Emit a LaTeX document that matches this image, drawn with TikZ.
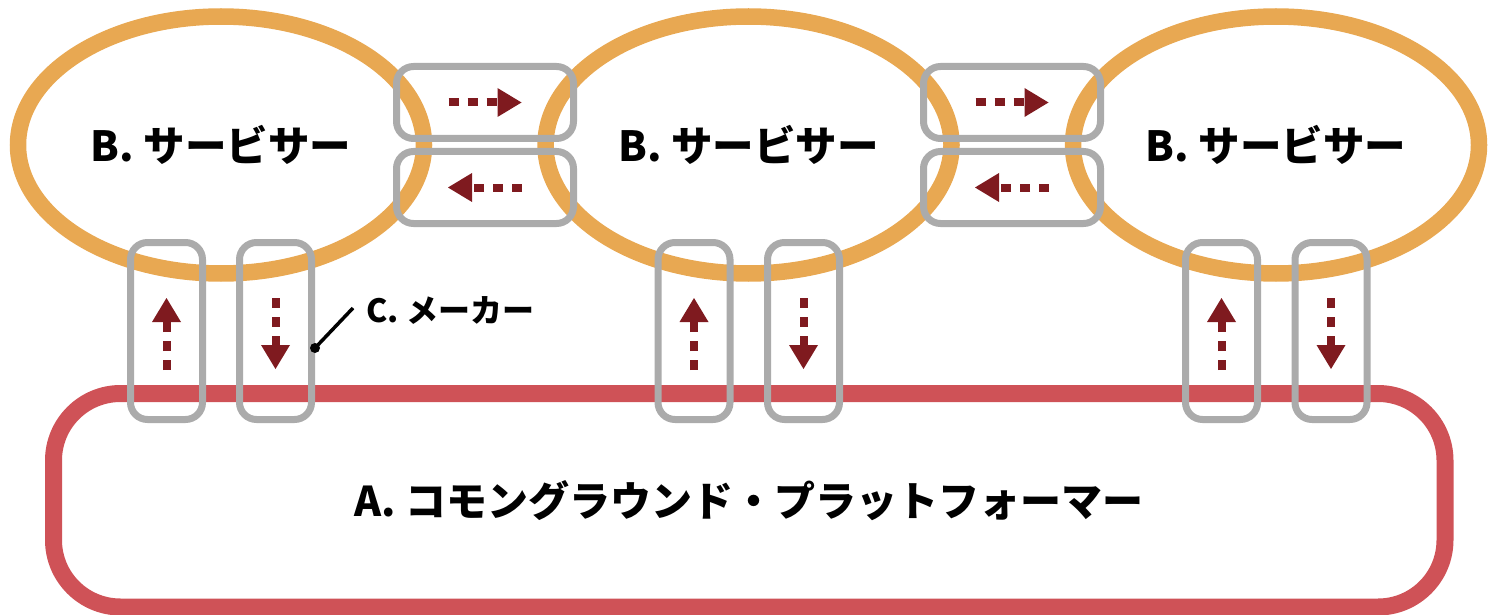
\documentclass[tikz,border=0pt]{standalone}
\usepackage{fontspec}
\setmainfont{Noto Sans CJK JP}
\usetikzlibrary{arrows.meta,shapes.geometric,calc}
\definecolor{svorange}{HTML}{E8A852}
\definecolor{pfred}{HTML}{CF5257}
\definecolor{boxgray}{HTML}{ABABAB}
\definecolor{arrred}{HTML}{7F1A1F}
\tikzset{
  servicer/.style={ellipse, draw=svorange, line width=16.5pt, minimum width=406pt, minimum height=257pt, inner sep=0pt, font=\fontsize{41.5}{48}\selectfont\bfseries},
  platform/.style={rectangle, rounded corners=67pt, draw=pfred, line width=17pt, minimum width=1391.5pt, minimum height=213.5pt, inner sep=0pt, font=\fontsize{41}{48}\selectfont\bfseries},
  hbox/.style={rectangle, rounded corners=17pt, draw=boxgray, line width=7pt, minimum width=177pt, minimum height=72pt, inner sep=0pt},
  vbox/.style={rectangle, rounded corners=17pt, draw=boxgray, line width=7pt, minimum width=72pt, minimum height=177pt, inner sep=0pt},
  flowarrow/.style={draw=arrred, line width=8pt, line cap=butt, dash pattern=on 10pt off 9pt, -{Triangle[length=24pt,width=29pt,line width=0pt]}},
  leader/.style={draw=black, line width=3.5pt},
  makerlabel/.style={anchor=west, inner sep=0pt, font=\fontsize{32}{37}\selectfont\bfseries}
}
\begin{document}
\begin{tikzpicture}[x=1pt,y=-1pt]
\useasboundingbox (0,0) rectangle (1489,615);
% servicers
\node[servicer] (s1) at (221,145) {B. サービサー};
\node[servicer] (s2) at (748.5,145) {B. サービサー};
\node[servicer] (s3) at (1276,145) {B. サービサー};
% platform
\node[platform] (pf) at (749.25,500.25) {A. コモングラウンド・プラットフォーマー};
% horizontal boxes
\node[hbox] (h1t) at (485,102.5) {};
\node[hbox] (h1b) at (485,187.5) {};
\node[hbox] (h2t) at (1012,102.5) {};
\node[hbox] (h2b) at (1012,187.5) {};
% vertical boxes
\node[vbox] (v1a) at (166.5,331) {};
\node[vbox] (v1b) at (275.5,331) {};
\node[vbox] (v2a) at (694,331) {};
\node[vbox] (v2b) at (803.5,331) {};
\node[vbox] (v3a) at (1221.5,331) {};
\node[vbox] (v3b) at (1331,331) {};
% horizontal arrows
\foreach \b in {h1t,h2t}{
  \draw[flowarrow] ([xshift=-36.5pt]\b.center) -- ([xshift=36.5pt]\b.center);
}
\foreach \b in {h1b,h2b}{
  \draw[flowarrow] ([xshift=37pt]\b.center) -- ([xshift=-37pt]\b.center);
}
% vertical arrows
\foreach \b in {v1a,v2a,v3a}{
  \draw[flowarrow] ([yshift=-39pt]\b.center) -- ([yshift=33pt]\b.center);
}
\foreach \b in {v1b,v2b,v3b}{
  \draw[flowarrow] ([yshift=33pt]\b.center) -- ([yshift=-38pt]\b.center);
}
% maker label
\node[makerlabel] (mk) at (366,310) {C. メーカー};
\coordinate (cdot) at ([yshift=-17pt]v1b.east);
\draw[leader] (cdot) -- ([xshift=-13pt,yshift=2pt]mk.west);
\fill (cdot) circle (5pt);
\end{tikzpicture}
\end{document}
